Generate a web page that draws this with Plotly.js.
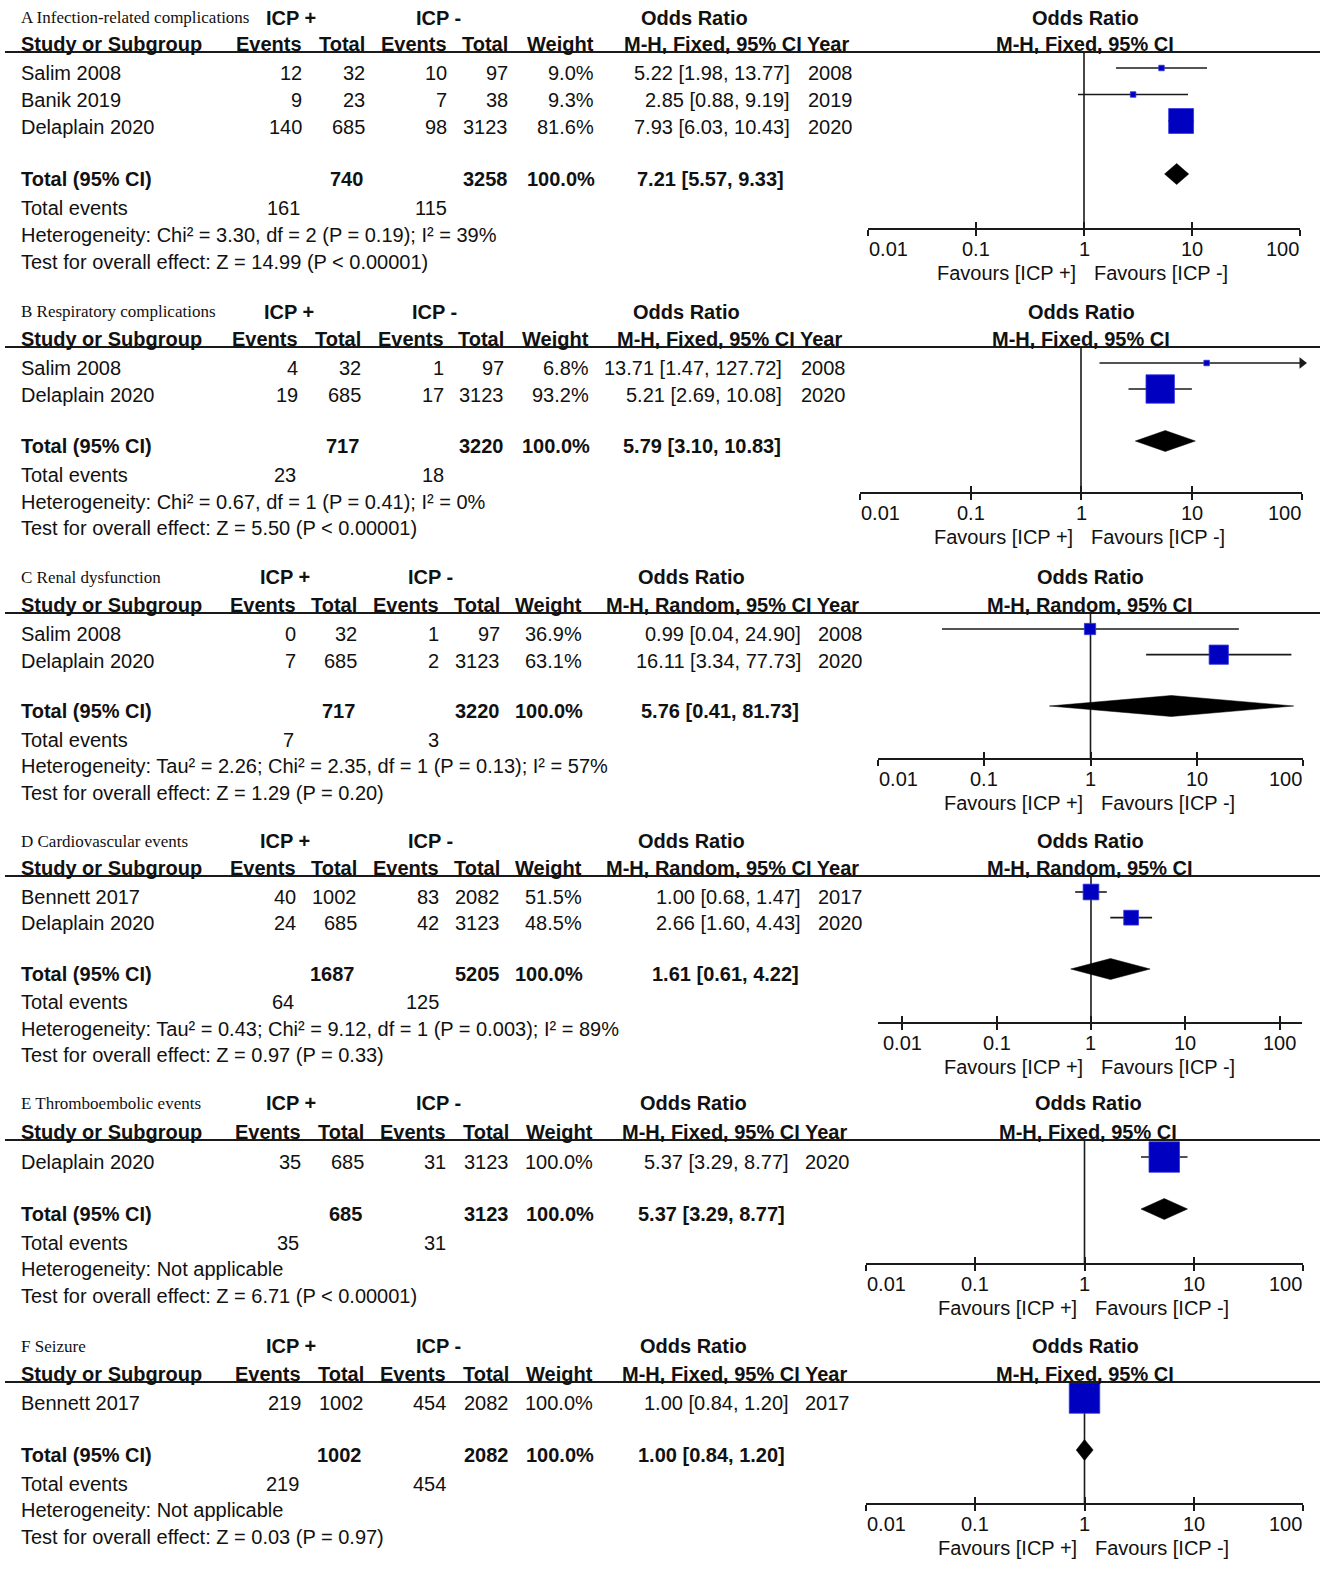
<!DOCTYPE html>
<html><head><meta charset="utf-8">
<script src="https://cdn.plot.ly/plotly-3.0.1.min.js"></script>
<style>html,body{margin:0;padding:0;background:#fff}#chart{width:1325px;height:1570px}</style>
</head><body><div id="chart"></div>
<script>
// ================= DATA =================
const panelTitles = ['A Infection-related complications','B Respiratory complications','C Renal dysfunction','D Cardiovascular events','E Thromboembolic events','F Seizure'];
const panelMethods = ['Fixed','Fixed','Random','Random','Fixed','Fixed'];

const A_study=['Salim 2008','Banik 2019','Delaplain 2020'];
const A_evPlus=[12,9,140], A_nPlus=[32,23,685], A_evMinus=[10,7,98], A_nMinus=[97,38,3123];
const A_weight=[9.0,9.3,81.6], A_or=[5.22,2.85,7.93], A_lo=[1.98,0.88,6.03], A_hi=[13.77,9.19,10.43], A_year=[2008,2019,2020];

const B_study=['Salim 2008','Delaplain 2020'];
const B_evPlus=[4,19], B_nPlus=[32,685], B_evMinus=[1,17], B_nMinus=[97,3123];
const B_weight=[6.8,93.2], B_or=[13.71,5.21], B_lo=[1.47,2.69], B_hi=[127.72,10.08], B_year=[2008,2020];

const C_study=['Salim 2008','Delaplain 2020'];
const C_evPlus=[0,7], C_nPlus=[32,685], C_evMinus=[1,2], C_nMinus=[97,3123];
const C_weight=[36.9,63.1], C_or=[0.99,16.11], C_lo=[0.04,3.34], C_hi=[24.90,77.73], C_year=[2008,2020];

const D_study=['Bennett 2017','Delaplain 2020'];
const D_evPlus=[40,24], D_nPlus=[1002,685], D_evMinus=[83,42], D_nMinus=[2082,3123];
const D_weight=[51.5,48.5], D_or=[1.00,2.66], D_lo=[0.68,1.60], D_hi=[1.47,4.43], D_year=[2017,2020];

const E_study=['Delaplain 2020'];
const E_evPlus=[35], E_nPlus=[685], E_evMinus=[31], E_nMinus=[3123];
const E_weight=[100.0], E_or=[5.37], E_lo=[3.29], E_hi=[8.77], E_year=[2020];

const F_study=['Bennett 2017'];
const F_evPlus=[219], F_nPlus=[1002], F_evMinus=[454], F_nMinus=[2082];
const F_weight=[100.0], F_or=[1.00], F_lo=[0.84], F_hi=[1.20], F_year=[2017];

const totNPlus=[740,717,717,1687,685,1002];
const totNMinus=[3258,3220,3220,5205,3123,2082];
const totOR=[7.21,5.79,5.76,1.61,5.37,1.00];
const totLo=[5.57,3.10,0.41,0.61,3.29,0.84];
const totHi=[9.33,10.83,81.73,4.22,8.77,1.20];
const totEvPlus=[161,23,7,64,35,219];
const totEvMinus=[115,18,3,125,31,454];
const heterogeneity=[
 'Heterogeneity: Chi² = 3.30, df = 2 (P = 0.19); I² = 39%',
 'Heterogeneity: Chi² = 0.67, df = 1 (P = 0.41); I² = 0%',
 'Heterogeneity: Tau² = 2.26; Chi² = 2.35, df = 1 (P = 0.13); I² = 57%',
 'Heterogeneity: Tau² = 0.43; Chi² = 9.12, df = 1 (P = 0.003); I² = 89%',
 'Heterogeneity: Not applicable',
 'Heterogeneity: Not applicable'];
const overallEffect=[
 'Test for overall effect: Z = 14.99 (P < 0.00001)',
 'Test for overall effect: Z = 5.50 (P < 0.00001)',
 'Test for overall effect: Z = 1.29 (P = 0.20)',
 'Test for overall effect: Z = 0.97 (P = 0.33)',
 'Test for overall effect: Z = 6.71 (P < 0.00001)',
 'Test for overall effect: Z = 0.03 (P = 0.97)'];
const tickVals=[0.01,0.1,1,10,100];
const tickLabels=['0.01','0.1','1','10','100'];

// ================= GEOMETRY (layout only) =================
const G=[
 {title:18,hdr:44,line:52,rows:[73,100,127],tot:179,te:208,het:235,test:262,icpP:291,icpM:438,orL:694,orR:1085,
  c:{ev1:303,n1:366,ev2:448,n2:509,wt:595,or:791,orT:785,yr:807,yrR:850},fx:[868,1300],fr:[-2,2],axisY:228,edge:true},
 {title:312,hdr:339,line:347,rows:[368,395],tot:446,te:475,het:502,test:528,icpP:289,icpM:434,orL:687,orR:1081,
  c:{ev1:299,n1:362,ev2:445,n2:505,wt:590,or:783,orT:782,yr:800,yrR:843},fx:[860,1302],fr:[-2,2],axisY:492,edge:true},
 {title:577,hdr:605,line:613,rows:[634,661],tot:711,te:740,het:766,test:793,icpP:285,icpM:430,orL:692,orR:1090,
  c:{ev1:297,n1:358,ev2:440,n2:501,wt:583,or:802,orT:800,yr:817,yrR:860},fx:[878,1303],fr:[-2,2],axisY:758,edge:true},
 {title:841,hdr:868,line:876,rows:[897,923],tot:974,te:1002,het:1029,test:1055,icpP:285,icpM:430,orL:692,orR:1090,
  c:{ev1:297,n1:358,ev2:440,n2:501,wt:583,or:802,orT:800,yr:817,yrR:860},fx:[878,1302],fr:[-2.254,2.233],axisY:1022,edge:false},
 {title:1103,hdr:1132,line:1140,rows:[1162],tot:1214,te:1243,het:1269,test:1296,icpP:291,icpM:438,orL:693,orR:1088,
  c:{ev1:302,n1:365,ev2:447,n2:510,wt:594,or:790,orT:786,yr:804,yrR:848},fx:[866,1303],fr:[-2,2],axisY:1263,edge:true},
 {title:1346,hdr:1374,line:1382,rows:[1403],tot:1455,te:1484,het:1510,test:1537,icpP:291,icpM:438,orL:693,orR:1085,
  c:{ev1:302,n1:365,ev2:447,n2:510,wt:594,or:790,orT:786,yr:804,yrR:848},fx:[866,1303],fr:[-2,2],axisY:1503,edge:true}
];

const panels=[
 {study:A_study,evP:A_evPlus,nP:A_nPlus,evM:A_evMinus,nM:A_nMinus,w:A_weight,or:A_or,lo:A_lo,hi:A_hi,yr:A_year},
 {study:B_study,evP:B_evPlus,nP:B_nPlus,evM:B_evMinus,nM:B_nMinus,w:B_weight,or:B_or,lo:B_lo,hi:B_hi,yr:B_year},
 {study:C_study,evP:C_evPlus,nP:C_nPlus,evM:C_evMinus,nM:C_nMinus,w:C_weight,or:C_or,lo:C_lo,hi:C_hi,yr:C_year},
 {study:D_study,evP:D_evPlus,nP:D_nPlus,evM:D_evMinus,nM:D_nMinus,w:D_weight,or:D_or,lo:D_lo,hi:D_hi,yr:D_year},
 {study:E_study,evP:E_evPlus,nP:E_nPlus,evM:E_evMinus,nM:E_nMinus,w:E_weight,or:E_or,lo:E_lo,hi:E_hi,yr:E_year},
 {study:F_study,evP:F_evPlus,nP:F_nPlus,evM:F_evMinus,nM:F_nMinus,w:F_weight,or:F_or,lo:F_lo,hi:F_hi,yr:F_year}
];

// ================= BUILD =================
const W=1325,H=1570;
const px=x=>x/W, py=y=>1-y/H;
const FONT='Liberation Sans, Arial, sans-serif';
const SERIF='Liberation Serif, Times New Roman, serif';
const TXT='#111', LINE='#1a1a1a', BLUE='rgb(0,0,192)';
const annotations=[], shapes=[], traces=[];
const layout={width:W,height:H,margin:{l:0,r:0,t:0,b:0},paper_bgcolor:'#fff',plot_bgcolor:'rgba(0,0,0,0)',
  showlegend:false,annotations,shapes,hovermode:false};

function txt(s,x,y,anchor,opt){
  opt=opt||{};
  annotations.push({text:s,x:px(x),y:py(y),xref:'paper',yref:'paper',xanchor:anchor,yanchor:'middle',
    showarrow:false,borderpad:0,font:{family:opt.family||FONT,size:opt.size||20,color:TXT}});
}
const f2=v=>v.toFixed(2);
const ciText=(o,l,h)=>`${f2(o)} [${f2(l)}, ${f2(h)}]`;

panels.forEach((p,i)=>{
  const g=G[i], c=g.c, n=p.study.length, meth=panelMethods[i];
  // header
  txt(panelTitles[i],20,g.title,'left',{family:SERIF,size:17});
  txt('<b>ICP +</b>',g.icpP,g.title,'center');
  txt('<b>ICP -</b>',g.icpM,g.title,'center');
  txt('<b>Odds Ratio</b>',g.orL,g.title,'center');
  txt('<b>Odds Ratio</b>',g.orR,g.title,'center');
  txt('<b>Study or Subgroup</b>',20,g.hdr,'left');
  txt('<b>Events</b>',c.ev1,g.hdr,'right');
  txt('<b>Total</b>',c.n1,g.hdr,'right');
  txt('<b>Events</b>',c.ev2,g.hdr,'right');
  txt('<b>Total</b>',c.n2,g.hdr,'right');
  txt('<b>Weight</b>',c.wt,g.hdr,'right');
  txt(`<b>M-H, ${meth}, 95% CI Year</b>`,c.yrR,g.hdr,'right');
  txt(`<b>M-H, ${meth}, 95% CI</b>`,g.orR,g.hdr,'center');
  shapes.push({type:'line',xref:'paper',yref:'paper',x0:px(5),x1:px(1320),y0:py(g.line),y1:py(g.line),line:{color:LINE,width:2}});
  // study rows
  p.study.forEach((s,k)=>{
    const y=g.rows[k];
    txt(s,20,y,'left');
    txt(String(p.evP[k]),c.ev1,y,'right');
    txt(String(p.nP[k]),c.n1,y,'right');
    txt(String(p.evM[k]),c.ev2,y,'right');
    txt(String(p.nM[k]),c.n2,y,'right');
    txt(p.w[k].toFixed(1)+'%',c.wt,y,'right');
    txt(ciText(p.or[k],p.lo[k],p.hi[k]),c.or,y,'right');
    txt(String(p.yr[k]),c.yr,y,'left');
  });
  // totals
  txt('<b>Total (95% CI)</b>',20,g.tot,'left');
  txt(`<b>${totNPlus[i]}</b>`,c.n1-2,g.tot,'right');
  txt(`<b>${totNMinus[i]}</b>`,c.n2,g.tot,'right');
  txt('<b>100.0%</b>',c.wt+1,g.tot,'right');
  txt(`<b>${ciText(totOR[i],totLo[i],totHi[i])}</b>`,c.orT,g.tot,'right');
  txt('Total events',20,g.te,'left');
  txt(String(totEvPlus[i]),c.ev1-2,g.te,'right');
  txt(String(totEvMinus[i]),c.ev2,g.te,'right');
  txt(heterogeneity[i],20,g.het,'left');
  txt(overallEffect[i],20,g.test,'left');

  // ---- forest axes ----
  const ax=i+1, xa='x'+(ax===1?'':ax), ya='y'+(ax===1?'':ax);
  const ov=i+7, xo='x'+ov;
  const m0=g.rows[0]-5;                       // pixel of first marker row
  const pitch=(g.tot-g.rows[0])/(n+1);        // pixel per row
  const yBot=(g.axisY-m0)/pitch, yTop=(g.line-m0)/pitch;
  const xdom=[px(g.fx[0]),px(g.fx[1])], ydom=[py(g.axisY),py(g.line)];
  const axBase={type:'log',range:g.fr,domain:xdom,anchor:ya,tickmode:'array',tickvals:tickVals,
    showgrid:false,zeroline:false,showticklabels:false,tickwidth:2,tickcolor:LINE,ticklen:6,fixedrange:true};
  layout['xaxis'+(ax===1?'':ax)]=Object.assign({},axBase,{showline:true,linecolor:LINE,linewidth:2,ticks:'outside'});
  layout['xaxis'+ov]=Object.assign({},axBase,{overlaying:xa,showline:false,ticks:'inside'});
  layout['yaxis'+(ax===1?'':ax)]={domain:ydom,range:[yBot,yTop],anchor:xa,showgrid:false,zeroline:false,
    showticklabels:false,ticks:'',showline:false,fixedrange:true};

  // tick labels & favours labels (positioned on the axis scale)
  tickVals.forEach((v,t)=>{
    let anc='center';
    if(g.edge&&t===0)anc='left';
    if(g.edge&&t===tickVals.length-1)anc='right';
    annotations.push({text:tickLabels[t],x:Math.log10(v),xref:xa,y:py(g.axisY+21),yref:'paper',xanchor:anc,yanchor:'middle',
      showarrow:false,borderpad:0,font:{family:FONT,size:20,color:TXT}});
  });
  annotations.push({text:'Favours [ICP +]',x:0,xref:xa,xshift:-7,y:py(g.axisY+45),yref:'paper',xanchor:'right',yanchor:'middle',
    showarrow:false,borderpad:0,font:{family:FONT,size:20,color:TXT}});
  annotations.push({text:'Favours [ICP -]',x:0,xref:xa,xshift:9,y:py(g.axisY+45),yref:'paper',xanchor:'left',yanchor:'middle',
    showarrow:false,borderpad:0,font:{family:FONT,size:20,color:TXT}});

  // overlay dummy so the overlay axis renders
  traces.push({x:[1],y:[yBot],xaxis:xo,yaxis:ya,mode:'markers',marker:{opacity:0,size:1},hoverinfo:'skip'});
  // null line OR=1
  traces.push({x:[1,1],y:[yTop,yBot],xaxis:xa,yaxis:ya,mode:'lines',line:{color:LINE,width:1.6},hoverinfo:'skip',cliponaxis:false});
  const xmax=Math.pow(10,g.fr[1]), xmin=Math.pow(10,g.fr[0]);
  // CI lines
  p.study.forEach((s,k)=>{
    const l=Math.max(p.lo[k],xmin), h=Math.min(p.hi[k],xmax);
    traces.push({x:[l,h],y:[k,k],xaxis:xa,yaxis:ya,mode:'lines',line:{color:LINE,width:1.6},hoverinfo:'skip',cliponaxis:false});
    if(p.hi[k]>xmax){
      traces.push({x:[h],y:[k],xaxis:xa,yaxis:ya,mode:'markers',marker:{symbol:'triangle-right',size:10,color:LINE,opacity:1,line:{width:0}},hoverinfo:'skip',cliponaxis:false});
    }
  });
  // squares (size from weight)
  traces.push({x:p.or,y:p.study.map((s,k)=>k),xaxis:xa,yaxis:ya,mode:'markers',cliponaxis:false,hoverinfo:'skip',
    marker:{symbol:'square',color:BLUE,opacity:1,size:p.w.map(w=>Math.max(5.5,0.305*w)),line:{width:0.8,color:'rgb(50,50,225)'}}});
  // pooled diamond
  const r=n+1, hh=10.5/pitch;
  traces.push({x:[totLo[i],totOR[i],totHi[i],totOR[i],totLo[i]],y:[r,r-hh,r,r+hh,r],xaxis:xa,yaxis:ya,
    mode:'lines',fill:'toself',fillcolor:'#000',line:{color:'#000',width:0.5},hoverinfo:'skip',cliponaxis:false});
});

Plotly.newPlot('chart',traces,layout,{displayModeBar:false,staticPlot:true});
</script></body></html>
